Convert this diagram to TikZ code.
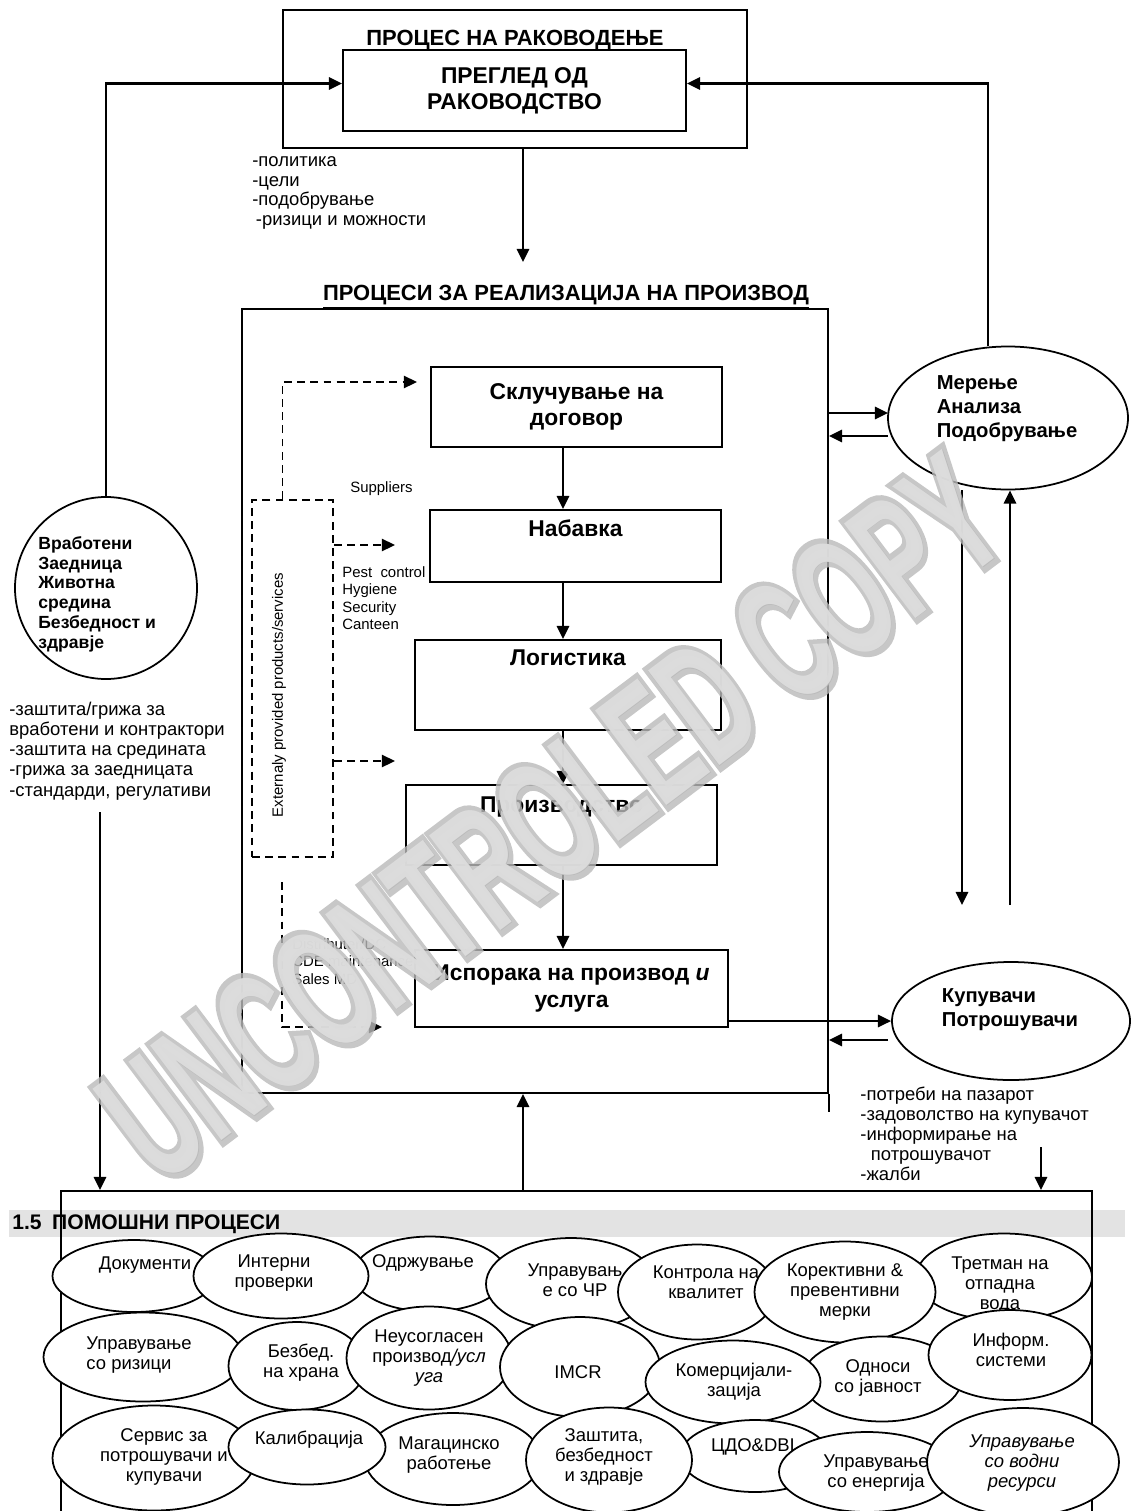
\documentclass[tikz,border=0pt]{standalone}
\usepackage{fontspec}
\setmainfont{Liberation Sans}
\newfontfamily\wmfont{Liberation Sans}[BoldFeatures={FakeBold=7}]
\usepackage{tikz}
\usetikzlibrary{positioning,arrows.meta,fit,shapes.geometric}
\tikzset{>={Triangle[length=7.5pt,width=7pt]}}

\begin{document}
\begin{tikzpicture}[
  x=0.02cm, y=-0.02cm,
  line join=miter
]

% Стилови.
\tikzset{
  frame/.style={draw, line width=1.1pt, inner sep=0pt},
  oval/.style 2 args={ellipse, draw, line width=1pt, fill=white, inner sep=0pt,
    minimum width=#1*0.02cm, minimum height=#2*0.02cm},
  conn/.style={->, line width=1.3pt},
  dline/.style={->, dashed, dash pattern=on 4.5pt off 3pt, line width=1pt},
  head/.style={inner sep=0pt, font=\fontsize{12.5}{14}\selectfont\bfseries},
  boxtxt/.style={inner sep=0pt, align=center, font=\fontsize{13}{15}\selectfont\bfseries},
  ovalbold/.style={inner sep=0pt, align=left, font=\fontsize{11.5}{13.6}\selectfont\bfseries},
  lst/.style={inner sep=0pt, align=left, anchor=north west, font=\fontsize{10.5}{11.3}\selectfont},
  small/.style={inner sep=0pt, align=left, anchor=north west, font=\fontsize{8.5}{10}\selectfont},
  otxt/.style={inner sep=0pt, align=center, font=\fontsize{10.5}{11.3}\selectfont},
  wmline/.style={inner sep=0pt, text=gray!55, opacity=.8, font=\fontsize{56}{60}\wmfont\bfseries},
  wmfill/.style={inner sep=0pt, text=gray!25, opacity=.9, font=\fontsize{56}{60}\selectfont\bfseries}
}

\useasboundingbox (0,0) rectangle (1131,1511);
\clip (0,0) rectangle (1131,1511);

% Раководство.
\node (mgmt) [frame, fit={(283,10) (747,148)}] {};
\node (mgmtT) [head] at (515,40) {ПРОЦЕС НА РАКОВОДЕЊЕ};
\node (review) [frame, fill=white, fit={(343,50) (686,131)}] {};
\node (reviewT) [boxtxt] at (review.center) {ПРЕГЛЕД ОД\\РАКОВОДСТВО};
\node (policy) [lst] at (252,156) {-политика\\-цели\\-подобрување\\\hspace{2pt}-ризици и можности};

% Реализација на производ.
\node (real) [frame, fit={(242,309) (828,1093)}] {};
\node (realT) [head] at (566,297) {\underline{ПРОЦЕСИ ЗА РЕАЛИЗАЦИЈА НА ПРОИЗВОД}};

\node (contract) [frame, fit={(431,367) (722,447)}] {};
\node (contractT) [boxtxt] at (contract.center) {Склучување на\\договор};
\node (purch) [frame, fit={(430,510) (721,582)}] {};
\node (purchT) [boxtxt, below=6pt of purch.north] {Набавка};
\node (logi) [frame, fit={(415,640) (721,730)}] {};
\node (logiT) [boxtxt, below=6pt of logi.north] {Логистика};
\node (prod) [frame, fit={(406,785) (717,865)}] {};
\node (prodT) [boxtxt, below=7pt of prod.north] {Производство};
\node (deliv) [frame, fit={(415,950) (728,1027)}] {};
\node (delivT) [boxtxt] at (deliv.center) {Испорака на производ \textit{и}\\услуга};

% Надворешни производи и услуги.
\node (ext) [frame, dashed, dash pattern=on 4.5pt off 3pt, line width=1pt, fit={(252,500) (333,857)}] {};
\node (extT) [small, anchor=center, rotate=90] at (279,695) {Externaly provided products/services};
\node (supL) [small] at (350,481) {Suppliers};
\node (svcL) [small] at (342,566) {Pest\ \ control\\Hygiene\\Security\\Canteen};
\node (distL) [small] at (292,938) {Distributer/DC\\CDE maintenance\\Sales MD};

% Мерење и купувачи.
\node (meas) [oval={240}{143}] at (1008,418) {};
\node (measT) [ovalbold] at (1007,409) {Мерење\\Анализа\\Подобрување};
\node (cust) [oval={238}{118}] at (1011,1021) {};
\node (custT) [ovalbold] at (1010,1010) {Купувачи\\Потрошувачи};
\node (custL) [lst] at (860,1087) {-потреби на пазарот\\-задоволство на купувачот\\-информирање на\\\hspace{6pt}потрошувачот\\-жалби};

% Вработени и заедница.
\node (staff) [oval={182}{182}] at (106,588) {};
\node (staffT) [ovalbold, anchor=north west, font=\fontsize{10}{11.3}\selectfont\bfseries] at (38,536) {Вработени\\Заедница\\Животна\\средина\\Безбедност и\\здравје};
\node (staffL) [lst] at (9,702) {-заштита/грижа за\\вработени и контрактори\\-заштита на средината\\-грижа за заедницата\\[1pt]-стандарди, регулативи};

% Помошни процеси.
\node (band) [fill=gray!22, inner sep=0pt, fit={(9,1210) (1125,1237)}] {};
\node (supp) [frame, fit={(61,1191) (1092,1530)}] {};
\node (bandT) [head, anchor=west, font=\fontsize{12}{14}\selectfont\bfseries] at (12,1224) {1.5\hspace{6pt}ПОМОШНИ ПРОЦЕСИ};

\node (docs)  [oval={163}{72}]  at (134,1276) {};
\node (maint) [oval={153}{75}]  at (430,1274) {};
\node (audit) [oval={175}{85}]  at (281,1276) {};
\node (hr)    [oval={170}{92}]  at (571,1284) {};
\node (qc)    [oval={158}{95}]  at (697,1292) {};
\node (waste) [oval={176}{87}]  at (1004,1277) {};
\node (capa)  [oval={181}{101}] at (845,1292) {};
\node (risk)  [oval={199}{89}]  at (143,1357) {};
\node (food)  [oval={137}{88}]  at (297,1366) {};
\node (ncp)   [oval={165}{103}] at (429,1358) {};
\node (imcr)  [oval={160}{100}] at (580,1367) {};
\node (pr)    [oval={159}{85}]  at (882,1379) {};
\node (comm)  [oval={175}{83}]  at (733,1382) {};
\node (cs)    [oval={203}{105}] at (154,1458) {};
\node (wh)    [oval={176}{92}]  at (453,1459) {};
\node (cal)   [oval={157}{75}]  at (307,1447) {};
\node (cdo)   [oval={149}{72}]  at (755,1456) {};
\node (ohs)   [oval={166}{105}] at (609,1460) {};
\node (en)    [oval={176}{80}]  at (867,1472) {};
\node (wr)    [oval={192}{108}] at (1023,1462) {};

\node (docsT)  [otxt] at (145,1265) {Документи};
\node (auditT) [otxt] at (274,1273) {Интерни\\проверки};
\node (maintT) [otxt] at (423,1263) {Одржување};
\node (hrT)    [otxt] at (575,1280) {Управувањ\\е со ЧР};
\node (qcT)    [otxt] at (706,1282) {Контрола на\\квалитет};
\node (capaT)  [otxt] at (845,1292) {Корективни \&\\превентивни\\мерки};
\node (wasteT) [otxt] at (1000,1285) {Третман на\\отпадна\\вода};
\node (riskT)  [otxt, align=left] at (139,1355) {Управување\\со ризици};
\node (foodT)  [otxt] at (301,1363) {Безбед.\\на храна};
\node (ncpT)   [otxt] at (429,1358) {Неусогласен\\производ\textit{/усл}\\\textit{уга}};
\node (imcrT)  [otxt] at (578,1372) {IMCR};
\node (commT)  [otxt] at (734,1382) {Комерцијали-\\зација};
\node (prT)    [otxt] at (878,1378) {Односи\\со јавност};
\node (csT)    [otxt] at (164,1457) {Сервис за\\потрошувачи и\\купувачи};
\node (calT)   [otxt] at (309,1440) {Калибрација};
\node (whT)    [otxt] at (449,1455) {Магацинско\\работење};
\node (ohsT)   [otxt] at (604,1457) {Заштита,\\безбедност\\и здравје};
\node (cdoT)   [otxt] at (753,1447) {ЦДО\&DBI};
\node (enT)    [otxt] at (876,1473) {Управување\\со енергија};
\node (wrT)    [otxt, font=\fontsize{10.5}{11.3}\selectfont\itshape] at (1022,1463) {Управување\\со водни\\ресурси};
\node (is)  [oval={163}{90}] at (1010,1355) {};
\node (isT) [otxt] at (1011,1350) {Информ.\\системи};

% Врски.
\coordinate (realIn) at (523,262);
\draw[conn] (realIn |- mgmt.south) -- (realIn);
\draw[conn] (staff.north) |- ([yshift=0.14cm]review.west);
\draw[conn] ([xshift=-0.4cm]meas.north) |- ([yshift=0.14cm]review.east);

\coordinate (spine) at (563,0);
\foreach \a/\b in {contract/purch, purch/logi, logi/prod, prod/deliv}{
  \draw[conn] (\a.south -| spine) -- (\b.north -| spine);
}

\coordinate (supIn) at (417,382);
\coordinate (svcIn) at (395,545);
\coordinate (prodIn) at (395,761);
\coordinate (distTop) at (282,882);
\coordinate (distIn) at (382,1027);
\draw[dline] ([xshift=-0.2cm]ext.north) |- (supIn);
\draw[dline] (ext.east |- svcIn) -- (svcIn);
\draw[dline] (ext.east |- prodIn) -- (prodIn);
\draw[dline] (distTop) |- (distIn);

\coordinate (mIn) at (888,413);
\coordinate (mOut) at (888,436);
\draw[conn] (real.east |- mIn) -- (mIn);
\draw[conn] (mOut) -- (real.east |- mOut);
\coordinate (mDown) at (962,905);
\coordinate (mUp) at (1010,905);
\draw[conn] (meas.south -| mDown) -- (mDown);
\draw[conn] (mUp) -- (meas.south -| mUp);

\draw[conn] (deliv.east |- cust.west) -- (cust.west);
\coordinate (cOut) at (888,1040);
\draw[conn] (cOut) -- (real.east |- cOut);
\draw[line width=1.1pt] (real.south east) -- ++(0,18);

\coordinate (cDown) at (1041,1147);
\draw[conn] (cDown) -- (cDown |- supp.north);
\coordinate (lDown) at (100,812);
\draw[conn] (lDown) -- (lDown |- supp.north);
\draw[conn] (supp.north -| realIn) -- (real.south -| realIn);

% Воден жиг.
\begin{scope}[shift={(552,818)}, rotate=37]
  \node (wmA) [wmline, transform shape, yscale=1.75] at (0,0) {UNCONTROLED COPY};
  \node (wmB) [wmfill, transform shape, yscale=1.75] at (0,0) {UNCONTROLED COPY};
\end{scope}
\end{tikzpicture}
\end{document}
